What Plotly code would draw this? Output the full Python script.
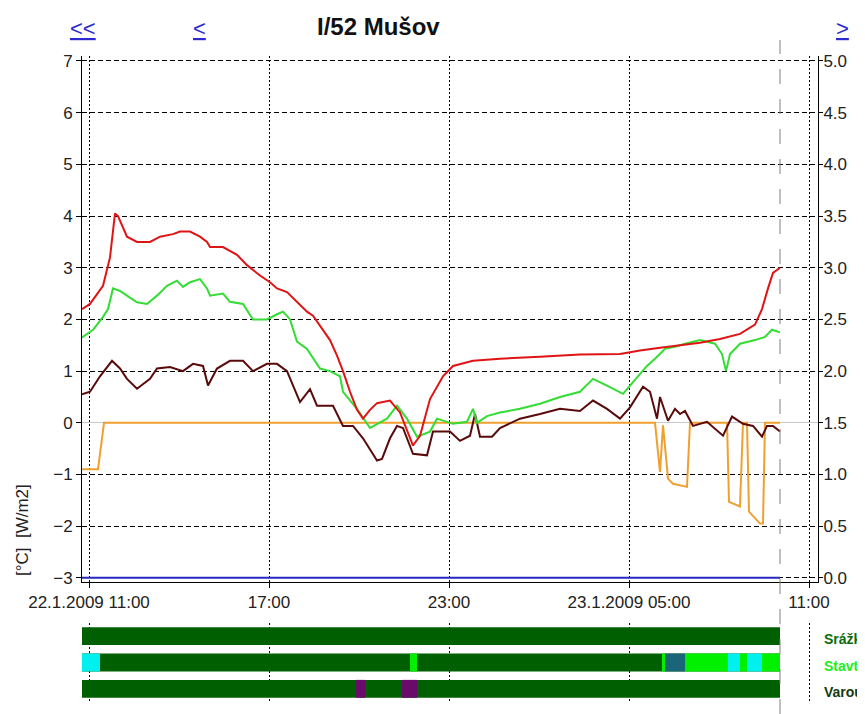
import pandas as pd
import plotly.graph_objects as go

# --- measured series (22.1.2009 - 23.1.2009) ---
red_t = ["2009-01-22 10:46", "2009-01-22 11:02", "2009-01-22 11:28", "2009-01-22 11:42", "2009-01-22 11:52",
         "2009-01-22 11:58", "2009-01-22 12:16", "2009-01-22 12:36", "2009-01-22 13:02", "2009-01-22 13:22",
         "2009-01-22 13:48", "2009-01-22 14:02", "2009-01-22 14:22", "2009-01-22 14:42", "2009-01-22 14:56",
         "2009-01-22 15:02", "2009-01-22 15:28", "2009-01-22 15:56", "2009-01-22 16:16", "2009-01-22 16:42",
         "2009-01-22 17:02", "2009-01-22 17:16", "2009-01-22 17:36", "2009-01-22 17:56", "2009-01-22 18:16",
         "2009-01-22 18:28", "2009-01-22 18:48", "2009-01-22 19:02", "2009-01-22 19:16", "2009-01-22 19:28",
         "2009-01-22 19:42", "2009-01-22 19:56", "2009-01-22 20:08", "2009-01-22 20:22", "2009-01-22 20:36",
         "2009-01-22 21:02", "2009-01-22 21:22", "2009-01-22 21:38", "2009-01-22 21:48", "2009-01-22 22:02",
         "2009-01-22 22:22", "2009-01-22 22:48", "2009-01-22 23:08", "2009-01-22 23:48", "2009-01-23 00:42",
         "2009-01-23 02:02", "2009-01-23 03:22", "2009-01-23 04:42", "2009-01-23 05:22", "2009-01-23 06:02",
         "2009-01-23 06:42", "2009-01-23 07:22", "2009-01-23 08:02", "2009-01-23 08:42", "2009-01-23 09:12",
         "2009-01-23 09:26", "2009-01-23 09:38", "2009-01-23 09:48", "2009-01-23 10:02"]
red_v = [2.2, 2.3, 2.65, 3.2, 4.05, 4.0, 3.6, 3.5, 3.5, 3.6,
         3.65, 3.7, 3.7, 3.6, 3.5, 3.4, 3.4, 3.25, 3.05, 2.85,
         2.72, 2.6, 2.53, 2.34, 2.15, 2.07, 1.8, 1.6, 1.3, 1.0,
         0.6, 0.25, 0.08, 0.25, 0.38, 0.43, 0.2, -0.2, -0.44, -0.25,
         0.46, 0.9, 1.1, 1.2, 1.24, 1.28, 1.32, 1.33, 1.4, 1.45,
         1.5, 1.55, 1.62, 1.72, 1.9, 2.2, 2.6, 2.9, 3.0]

green_t = ["2009-01-22 10:46", "2009-01-22 11:08", "2009-01-22 11:28", "2009-01-22 11:38", "2009-01-22 11:48",
           "2009-01-22 12:02", "2009-01-22 12:16", "2009-01-22 12:36", "2009-01-22 12:56", "2009-01-22 13:16",
           "2009-01-22 13:36", "2009-01-22 13:56", "2009-01-22 14:08", "2009-01-22 14:22", "2009-01-22 14:42",
           "2009-01-22 14:56", "2009-01-22 15:02", "2009-01-22 15:28", "2009-01-22 15:42", "2009-01-22 16:08",
           "2009-01-22 16:28", "2009-01-22 16:56", "2009-01-22 17:16", "2009-01-22 17:28", "2009-01-22 17:42",
           "2009-01-22 17:56", "2009-01-22 18:16", "2009-01-22 18:42", "2009-01-22 19:02", "2009-01-22 19:22",
           "2009-01-22 19:28", "2009-01-22 19:56", "2009-01-22 20:22", "2009-01-22 20:56", "2009-01-22 21:16",
           "2009-01-22 21:36", "2009-01-22 21:56", "2009-01-22 22:22", "2009-01-22 22:36", "2009-01-22 23:08",
           "2009-01-22 23:36", "2009-01-22 23:48", "2009-01-22 23:56", "2009-01-23 00:16", "2009-01-23 00:42",
           "2009-01-23 01:22", "2009-01-23 02:02", "2009-01-23 02:42", "2009-01-23 03:22", "2009-01-23 03:48",
           "2009-01-23 04:16", "2009-01-23 04:48", "2009-01-23 05:02", "2009-01-23 05:36", "2009-01-23 05:52",
           "2009-01-23 06:12", "2009-01-23 06:32", "2009-01-23 06:52", "2009-01-23 07:22", "2009-01-23 07:52",
           "2009-01-23 08:06", "2009-01-23 08:14", "2009-01-23 08:22", "2009-01-23 08:42", "2009-01-23 09:12",
           "2009-01-23 09:32", "2009-01-23 09:46", "2009-01-23 10:02"]
green_v = [1.65, 1.8, 2.05, 2.2, 2.6, 2.55, 2.46, 2.33, 2.3, 2.46,
           2.65, 2.75, 2.63, 2.72, 2.78, 2.6, 2.46, 2.5, 2.34, 2.3,
           2.0, 2.0, 2.1, 2.15, 2.0, 1.57, 1.43, 1.05, 1.0, 0.9,
           0.6, 0.27, -0.1, 0.08, 0.33, 0.08, -0.27, -0.17, 0.08, -0.02,
           0.02, 0.27, 0.0, 0.13, 0.2, 0.27, 0.37, 0.5, 0.6, 0.85,
           0.72, 0.56, 0.72, 1.1, 1.24, 1.43, 1.47, 1.53, 1.6, 1.53,
           1.33, 1.0, 1.33, 1.53, 1.6, 1.66, 1.8, 1.75]

brown_t = ["2009-01-22 10:46", "2009-01-22 11:02", "2009-01-22 11:22", "2009-01-22 11:46", "2009-01-22 12:02",
           "2009-01-22 12:16", "2009-01-22 12:36", "2009-01-22 13:02", "2009-01-22 13:16", "2009-01-22 13:42",
           "2009-01-22 14:08", "2009-01-22 14:28", "2009-01-22 14:48", "2009-01-22 14:58", "2009-01-22 15:16",
           "2009-01-22 15:42", "2009-01-22 16:08", "2009-01-22 16:28", "2009-01-22 16:56", "2009-01-22 17:16",
           "2009-01-22 17:36", "2009-01-22 17:48", "2009-01-22 18:02", "2009-01-22 18:22", "2009-01-22 18:36",
           "2009-01-22 19:08", "2009-01-22 19:28", "2009-01-22 19:48", "2009-01-22 20:08", "2009-01-22 20:36",
           "2009-01-22 20:46", "2009-01-22 21:02", "2009-01-22 21:16", "2009-01-22 21:28", "2009-01-22 21:48",
           "2009-01-22 22:16", "2009-01-22 22:28", "2009-01-22 23:02", "2009-01-22 23:22", "2009-01-22 23:42",
           "2009-01-22 23:52", "2009-01-23 00:02", "2009-01-23 00:26", "2009-01-23 00:42", "2009-01-23 01:22",
           "2009-01-23 02:02", "2009-01-23 02:42", "2009-01-23 03:22", "2009-01-23 03:48", "2009-01-23 04:16",
           "2009-01-23 04:42", "2009-01-23 05:02", "2009-01-23 05:28", "2009-01-23 05:42", "2009-01-23 05:56",
           "2009-01-23 06:02", "2009-01-23 06:18", "2009-01-23 06:32", "2009-01-23 06:42", "2009-01-23 06:52",
           "2009-01-23 07:08", "2009-01-23 07:36", "2009-01-23 08:08", "2009-01-23 08:26", "2009-01-23 08:48",
           "2009-01-23 09:08", "2009-01-23 09:26", "2009-01-23 09:36", "2009-01-23 09:48", "2009-01-23 10:02"]
brown_v = [0.55, 0.6, 0.9, 1.2, 1.05, 0.85, 0.66, 0.85, 1.05, 1.08,
           1.0, 1.14, 1.1, 0.72, 1.05, 1.2, 1.2, 1.0, 1.14, 1.14,
           1.0, 0.72, 0.4, 0.65, 0.33, 0.33, -0.06, -0.06, -0.3, -0.73,
           -0.7, -0.3, -0.06, -0.1, -0.6, -0.63, -0.17, -0.17, -0.35, -0.25,
           0.17, -0.27, -0.27, -0.1, 0.08, 0.17, 0.27, 0.23, 0.43, 0.27,
           0.08, 0.3, 0.7, 0.6, 0.08, 0.5, 0.04, 0.27, 0.17, 0.23,
           -0.06, 0.02, -0.25, 0.12, -0.02, -0.06, -0.27, -0.06, -0.06, -0.17]

orange_t = ["2009-01-22 10:46", "2009-01-22 11:18", "2009-01-22 11:30", "2009-01-23 05:52", "2009-01-23 06:02",
            "2009-01-23 06:08", "2009-01-23 06:18", "2009-01-23 06:28", "2009-01-23 06:56", "2009-01-23 07:02",
            "2009-01-23 08:16", "2009-01-23 08:20", "2009-01-23 08:42", "2009-01-23 08:48", "2009-01-23 08:56",
            "2009-01-23 09:00", "2009-01-23 09:22", "2009-01-23 09:28", "2009-01-23 09:32", "2009-01-23 10:02"]
orange_v = [-0.9, -0.9, 0.0, 0.0, -0.95, -0.05, -1.08, -1.18, -1.24, 0.0,
            0.0, -1.53, -1.62, 0.0, 0.0, -1.72, -1.95, -1.95, 0.0, 0.0]

# radiation [W/m2], right axis
blue_t = ["2009-01-22 10:46", "2009-01-23 10:02"]
blue_v = [0, 0]

# --- status rows ---
row_names = ["Srážk", "Stavt", "Varou"]
row_colors = ["#0a6b0a", "#22ee22", "#143a14"]
row_start = "2009-01-22 10:46"
row_end = "2009-01-23 10:02"

seg_row = ["Stavt", "Stavt", "Stavt", "Stavt", "Stavt", "Stavt", "Stavt", "Stavt", "Stavt",
           "Varou", "Varou"]
seg_start = ["2009-01-22 10:46", "2009-01-22 21:42", "2009-01-23 06:06", "2009-01-23 06:12", "2009-01-23 06:52",
             "2009-01-23 08:18", "2009-01-23 08:42", "2009-01-23 08:56", "2009-01-23 09:26",
             "2009-01-22 19:54", "2009-01-22 21:26"]
seg_end = ["2009-01-22 11:22", "2009-01-22 21:56", "2009-01-23 06:12", "2009-01-23 06:52", "2009-01-23 08:18",
           "2009-01-23 08:42", "2009-01-23 08:56", "2009-01-23 09:26", "2009-01-23 10:02",
           "2009-01-22 20:12", "2009-01-22 21:56"]
seg_state = ["wet", "damp", "damp", "ice", "damp", "wet", "damp", "wet", "damp", "warn", "warn"]
state_colors = {"ok": "#005f00", "damp": "#00f000", "wet": "#00f0f0", "ice": "#1a6678", "warn": "#6a0a6a"}

# --- axis ticks ---
tick_vals = ["2009-01-22 11:00", "2009-01-22 17:00", "2009-01-22 23:00", "2009-01-23 05:00", "2009-01-23 11:00"]
tick_text = ["22.1.2009 11:00", "17:00", "23:00", "23.1.2009 05:00", "11:00"]
x_range = ["2009-01-22 10:46", "2009-01-23 11:18"]

# the html page puts an 8px body margin around the figure
PAGE_W, PAGE_H, BODY = 865, 714, 8
W, H = PAGE_W - BODY, PAGE_H - BODY
FONT = "Liberation Sans, Arial, sans-serif"


def px(x):
    # page pixel -> paper x
    return (x - BODY) / W


def py(y):
    # page pixel -> paper y
    return 1 - (y - BODY) / H


def ms(start, end):
    return [(pd.Timestamp(e) - pd.Timestamp(s)).total_seconds() * 1000 for s, e in zip(start, end)]


layout = go.Layout(
    width=W,
    height=H,
    margin=dict(l=0, r=0, t=0, b=0),
    paper_bgcolor="white",
    plot_bgcolor="white",
    showlegend=False,
    barmode="overlay",
    font=dict(family=FONT, size=17, color="#222222"),
    xaxis=dict(domain=[px(82), px(818)], range=x_range, type="date", automargin=False,
               tickvals=tick_vals, ticktext=tick_text,
               showgrid=True, gridcolor="black", griddash="2px,2px", gridwidth=1,
               showline=True, linecolor="black", linewidth=1,
               ticks="outside", ticklen=5, tickcolor="black", anchor="y"),
    yaxis=dict(domain=[py(582), py(55.8)], range=[-3.08, 7.1], dtick=1, tick0=0, automargin=False,
               showgrid=True, gridcolor="black", griddash="5px,3px", gridwidth=1,
               zeroline=True, zerolinecolor="#c8c8c8", zerolinewidth=1,
               showline=True, linecolor="black", linewidth=1,
               ticks="outside", ticklen=5, tickcolor="black", anchor="x"),
    yaxis2=dict(overlaying="y", side="right", range=[-0.04, 5.05], dtick=0.5, tick0=0, automargin=False,
                tickformat=".1f", showgrid=False, zeroline=False, tickfont=dict(size=17),
                showline=True, linecolor="black", linewidth=1, ticklabelstandoff=-3,
                ticks="outside", ticklen=4, tickcolor="black", anchor="x"),
    xaxis2=dict(domain=[px(82), px(818)], matches="x", type="date", anchor="y3", automargin=False,
                tickvals=tick_vals, showticklabels=False,
                showgrid=True, gridcolor="black", griddash="2px,2px", gridwidth=1,
                showline=False, zeroline=False),
    yaxis3=dict(domain=[py(702), py(623)], type="category", categoryorder="array", automargin=False,
                categoryarray=row_names, range=[2.5, -0.5],
                showticklabels=False, showgrid=False, zeroline=False, anchor="x2"),
)

fig = go.Figure(layout=layout)

# temperature lines
fig.add_trace(go.Scatter(x=orange_t, y=orange_v, mode="lines", line=dict(color="#f0a030", width=2)))
fig.add_trace(go.Scatter(x=brown_t, y=brown_v, mode="lines", line=dict(color="#5a0a0a", width=2)))
fig.add_trace(go.Scatter(x=green_t, y=green_v, mode="lines", line=dict(color="#33dd33", width=2)))
fig.add_trace(go.Scatter(x=red_t, y=red_v, mode="lines", line=dict(color="#e01414", width=2)))
fig.add_trace(go.Scatter(x=blue_t, y=blue_v, mode="lines", yaxis="y2", line=dict(color="#2828c0", width=2)))

# status rows: full background then coloured segments
fig.add_trace(go.Bar(
    y=row_names, base=[row_start] * len(row_names), x=ms([row_start] * len(row_names), [row_end] * len(row_names)),
    orientation="h", width=0.68, marker=dict(color=state_colors["ok"], line=dict(width=0)),
    xaxis="x2", yaxis="y3"))
fig.add_trace(go.Bar(
    y=seg_row, base=seg_start, x=ms(seg_start, seg_end),
    orientation="h", width=0.68, marker=dict(color=[state_colors[s] for s in seg_state], line=dict(width=0)),
    xaxis="x2", yaxis="y3"))

# current time marker
fig.add_shape(type="line", xref="x", yref="paper", x0=row_end, x1=row_end, y0=0, y1=py(40),
              line=dict(color="#808080", width=1, dash="longdash"))

# row labels, only the part the original page shows
for name, col in zip(row_names, row_colors):
    fig.add_annotation(x=px(822), y=name, xref="paper", yref="y3", xanchor="left", yanchor="middle",
                       yshift=-3, text="<b>%s</b>" % name, showarrow=False, font=dict(size=14, color=col))

# header
fig.add_annotation(x=px(378), y=py(27), xref="paper", yref="paper", xanchor="center", yanchor="middle",
                   text="<b>I/52 Mušov</b>", showarrow=False, font=dict(size=24, color="#111111"))
for label, xpos in [("&lt;&lt;", 83), ("&lt;", 199), ("&gt;", 842)]:
    fig.add_annotation(x=px(xpos), y=py(28), xref="paper", yref="paper", xanchor="center", yanchor="middle",
                       text="<u>%s</u>" % label, showarrow=False, font=dict(size=22, color="#2a2ad0"))

# y axis unit label
fig.add_annotation(x=px(22), y=py(530), xref="paper", yref="paper", xanchor="center", yanchor="middle",
                   text="[°C]  [W/m2]", textangle=-90, showarrow=False, font=dict(size=17, color="#222222"))

fig.write_html("out.html")
